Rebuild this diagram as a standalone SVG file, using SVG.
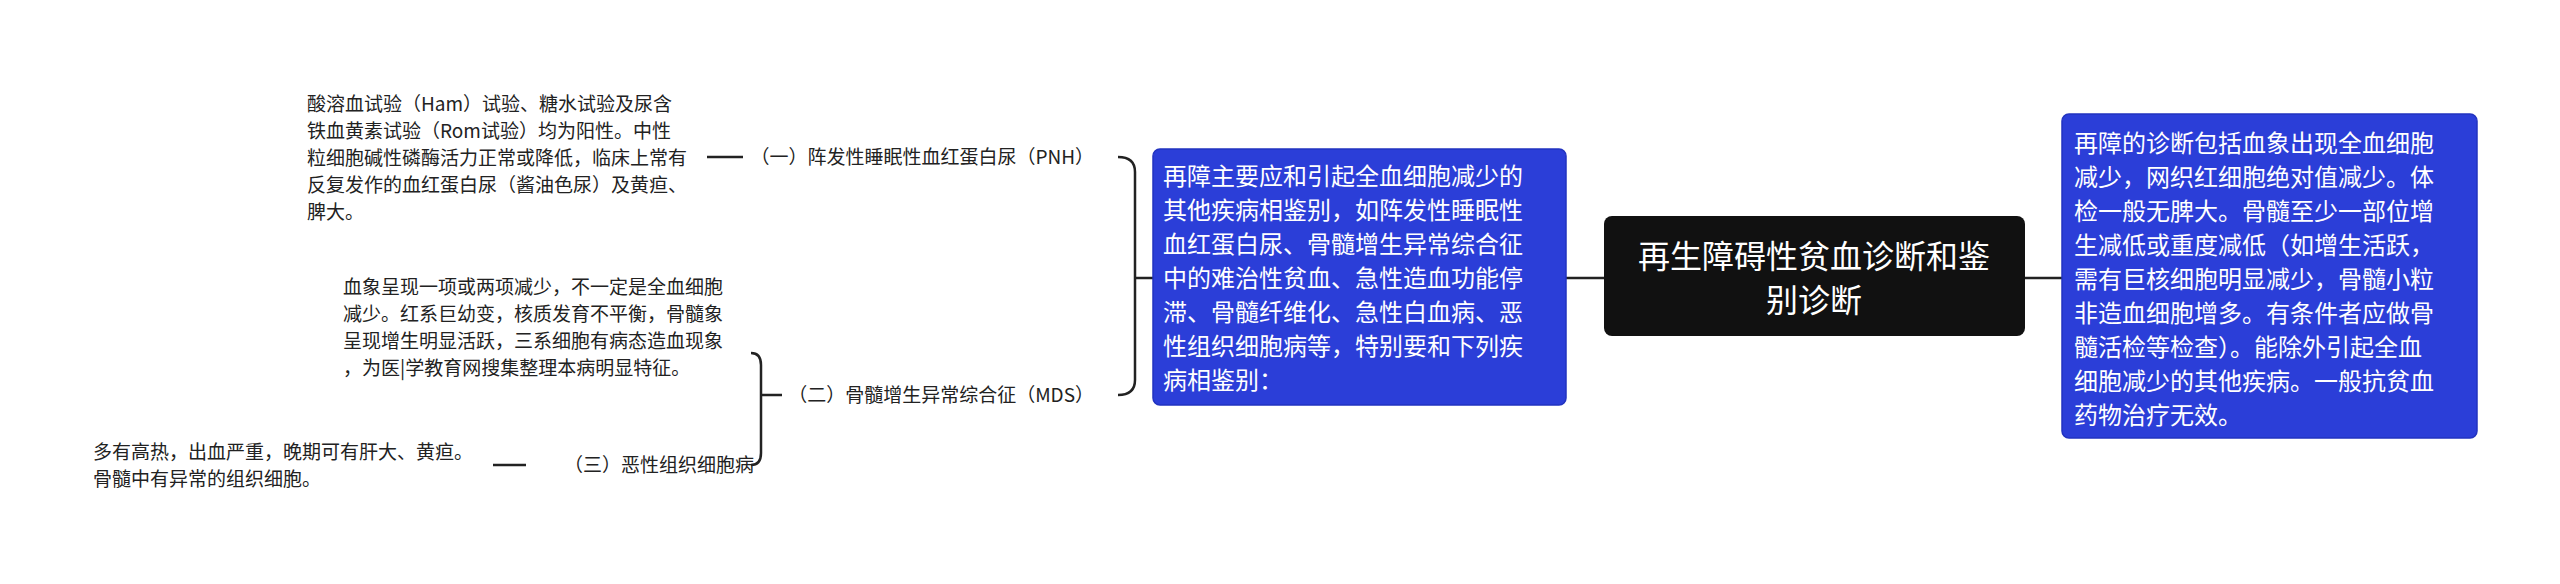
<svg xmlns="http://www.w3.org/2000/svg" width="2560" height="584" viewBox="0 0 2560 584">
<style>
text{font-family:"Noto Sans CJK SC","Noto Sans",sans-serif;}
.box{fill:#2b3ed8;stroke:#2233c0;stroke-width:1.5}
.w{fill:#fff;font-size:24px}
.k{fill:#222;font-size:19px}
.c{fill:none;stroke:#222;stroke-width:2.5}
</style>
<rect width="2560" height="584" fill="#fff"/>
<g id="connectors">
<path class="c" d="M1566,278 L1604,278 M2025,278 L2062,278"/>
<path class="c" d="M1118,157 Q1135,157 1135,172 L1135,380 Q1135,395 1118,395 M1135,278 L1153,278"/>
<path class="c" d="M707,157 L743,157"/>
<path class="c" d="M751,353 Q761,353 761,365 L761,453 Q761,465 751,465 M761,395 L782,395"/>
<path class="c" d="M493,465 L526,465"/>
</g>
<g id="center">
<rect x="1604" y="216" width="421" height="120" rx="8" fill="#111"/>
<text x="1814" y="268" fill="#fff" font-size="32" text-anchor="middle">再生障碍性贫血诊断和鉴</text>
<text x="1814" y="312" fill="#fff" font-size="32" text-anchor="middle">别诊断</text>
</g>
<g id="right">
<rect class="box" x="2062" y="114" width="415" height="324" rx="7"/>
<text class="w" x="2074" y="152">再障的诊断包括血象出现全血细胞</text>
<text class="w" x="2074" y="186">减少，网织红细胞绝对值减少。体</text>
<text class="w" x="2074" y="220">检一般无脾大。骨髓至少一部位增</text>
<text class="w" x="2074" y="254">生减低或重度减低（如增生活跃，</text>
<text class="w" x="2074" y="288">需有巨核细胞明显减少，骨髓小粒</text>
<text class="w" x="2074" y="322">非造血细胞增多。有条件者应做骨</text>
<text class="w" x="2074" y="356">髓活检等检查）。能除外引起全血</text>
<text class="w" x="2074" y="390">细胞减少的其他疾病。一般抗贫血</text>
<text class="w" x="2074" y="424">药物治疗无效。</text>
</g>
<g id="left">
<rect class="box" x="1153" y="149" width="413" height="256" rx="7"/>
<text class="w" x="1163" y="185">再障主要应和引起全血细胞减少的</text>
<text class="w" x="1163" y="219">其他疾病相鉴别，如阵发性睡眠性</text>
<text class="w" x="1163" y="253">血红蛋白尿、骨髓增生异常综合征</text>
<text class="w" x="1163" y="287">中的难治性贫血、急性造血功能停</text>
<text class="w" x="1163" y="321">滞、骨髓纤维化、急性白血病、恶</text>
<text class="w" x="1163" y="355">性组织细胞病等，特别要和下列疾</text>
<text class="w" x="1163" y="389">病相鉴别：</text>
</g>
<g id="pnh"><text class="k" x="1094" y="164" text-anchor="end">（一）阵发性睡眠性血红蛋白尿（PNH）</text></g>
<g id="mds"><text class="k" x="1094" y="402" text-anchor="end">（二）骨髓增生异常综合征（MDS）</text></g>
<g id="mh"><text class="k" x="754" y="472" text-anchor="end">（三）恶性组织细胞病</text></g>
<g id="pnh-leaf">
<text class="k" x="307" y="111">酸溶血试验（Ham）试验、糖水试验及尿含</text>
<text class="k" x="307" y="138">铁血黄素试验（Rom试验）均为阳性。中性</text>
<text class="k" x="307" y="165">粒细胞碱性磷酶活力正常或降低，临床上常有</text>
<text class="k" x="307" y="192">反复发作的血红蛋白尿（酱油色尿）及黄疸、</text>
<text class="k" x="307" y="219">脾大。</text>
</g>
<g id="mds-leaf">
<text class="k" x="343" y="294">血象呈现一项或两项减少，不一定是全血细胞</text>
<text class="k" x="343" y="321">减少。红系巨幼变，核质发育不平衡，骨髓象</text>
<text class="k" x="343" y="348">呈现增生明显活跃，三系细胞有病态造血现象</text>
<text class="k" x="343" y="375">，为医|学教育网搜集整理本病明显特征。</text>
</g>
<g id="mh-leaf">
<text class="k" x="93" y="459">多有高热，出血严重，晚期可有肝大、黄疸。</text>
<text class="k" x="93" y="486">骨髓中有异常的组织细胞。</text>
</g>
</svg>
